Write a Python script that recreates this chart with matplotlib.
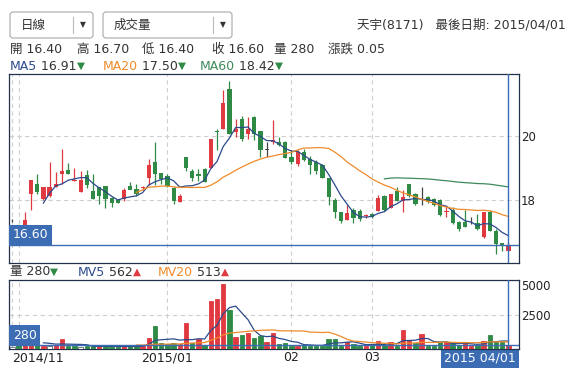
import numpy as np
import pandas as pd
import matplotlib
matplotlib.use('Agg')
import matplotlib.pyplot as plt
from matplotlib.patches import FancyBboxPatch
from matplotlib.transforms import blended_transform_factory, offset_copy

plt.rcParams['font.family'] = ['DejaVu Sans', 'Noto Sans CJK TC']

# daily candles
opens = [17.33, 17.00, 17.17, 18.19, 18.50, 18.03, 18.12, 18.40, 18.80, 18.93,
         18.59, 18.24, 18.77, 18.29, 18.42, 18.45, 18.06, 18.00, 18.04, 18.45,
         18.35, 18.38, 18.69, 19.19, 18.85, 18.76, 18.38, 17.93, 19.36, 18.90,
         18.80, 18.97, 19.01, 20.17, 20.21, 21.47, 20.14, 20.53, 20.05, 20.58,
         20.16, 19.57, 19.81, 19.82, 19.81, 19.34, 19.13, 19.50, 19.27, 19.19,
         19.08, 18.69, 18.00, 17.61, 17.36, 17.68, 17.66, 17.49, 17.56, 17.65,
         18.12, 17.75, 18.29, 17.98, 18.51, 18.19, 18.05, 18.08, 18.04, 18.01,
         17.62, 17.70, 17.30, 17.30, 17.33, 17.28, 16.84, 17.64, 17.04, 16.65,
         16.40]
highs = [17.40, 17.10, 17.61, 18.61, 18.82, 18.42, 19.19, 18.87, 19.61, 19.16,
         19.00, 18.90, 18.94, 18.82, 18.42, 18.45, 18.10, 18.02, 18.37, 18.56,
         18.50, 18.45, 19.27, 19.81, 18.85, 18.82, 18.42, 18.19, 19.36, 18.97,
         18.97, 19.00, 19.92, 20.22, 21.43, 21.71, 20.53, 20.64, 20.58, 20.64,
         20.16, 19.80, 20.51, 19.98, 19.84, 19.55, 19.55, 19.58, 19.39, 19.24,
         19.13, 18.69, 18.06, 17.64, 17.83, 17.76, 17.72, 17.55, 17.58, 18.17,
         18.15, 18.20, 18.40, 18.32, 18.51, 18.22, 18.40, 18.11, 18.06, 18.04,
         17.79, 17.77, 17.33, 17.68, 17.47, 17.57, 17.61, 17.70, 17.10, 16.65,
         16.70]
lows = [17.30, 16.75, 16.95, 17.70, 18.19, 18.00, 18.10, 18.40, 18.51, 18.80,
        18.59, 18.24, 18.38, 18.03, 17.87, 17.75, 17.78, 17.90, 17.96, 18.33,
        18.14, 18.30, 18.48, 18.48, 18.50, 18.40, 17.87, 17.93, 18.90, 18.59,
        18.59, 18.55, 19.00, 19.55, 20.21, 20.05, 19.98, 19.83, 19.91, 19.87,
        19.33, 19.35, 19.74, 19.69, 19.32, 19.13, 19.06, 19.23, 18.82, 18.82,
        18.69, 17.83, 17.45, 17.28, 17.36, 17.28, 17.33, 17.45, 17.45, 17.65,
        17.66, 17.75, 17.96, 17.64, 18.08, 17.85, 17.83, 17.91, 17.80, 17.49,
        17.47, 17.26, 17.02, 17.15, 17.26, 17.07, 16.81, 17.02, 16.30, 16.39,
        16.40]
closes = [17.33, 16.85, 17.38, 18.61, 18.25, 18.42, 18.42, 18.51, 18.92, 18.82,
          18.63, 18.63, 18.48, 18.03, 18.12, 18.03, 17.92, 17.91, 18.32, 18.31,
          18.19, 18.42, 19.11, 18.82, 18.66, 18.45, 17.96, 18.12, 19.01, 18.69,
          18.74, 18.55, 19.92, 20.12, 21.04, 20.05, 20.21, 19.90, 20.21, 20.05,
          19.56, 19.57, 19.87, 19.72, 19.32, 19.18, 19.50, 19.26, 19.08, 18.90,
          18.69, 18.08, 17.62, 17.35, 17.58, 17.43, 17.42, 17.54, 17.47, 18.05,
          17.70, 18.20, 17.98, 18.08, 18.12, 17.87, 18.05, 17.94, 17.85, 17.54,
          17.66, 17.28, 17.10, 17.17, 17.33, 17.10, 17.61, 17.04, 16.62, 16.55,
          16.60]
volumes = [150, 400, 600, 700, 300, 250, 200, 320, 740, 250,
           200, 150, 200, 200, 200, 200, 150, 150, 200, 200,
           200, 250, 820, 1680, 400, 370, 400, 370, 1850, 400,
           690, 320, 3490, 3640, 4680, 2850, 890, 1010, 1190, 820,
           940, 520, 1190, 370, 400, 250, 250, 320, 250, 250,
           250, 740, 740, 250, 500, 370, 250, 200, 320, 570,
           320, 500, 250, 1390, 640, 400, 1110, 250, 250, 500,
           500, 400, 320, 400, 250, 320, 570, 1010, 500, 500,
           280]

grid_idx = [0, 1, 25, 45, 58]
month_idx = [25, 45, 58]
month_labels = ['2015/01', '02', '03']
first_label = '2014/11'
last_label = '2015 04/01'

RED = '#e03a40'
GREEN = '#2e8a45'
DOJI = '#444444'
NAVY = '#2b4a8c'
ORANGE = '#f08a2a'
MAGREEN = '#3d8a5a'
BLUE = '#3c6db4'
FRAME = '#22324a'
GRID = '#cfcfcf'
TXT = '#333333'

W, H = 569, 375
fig = plt.figure(figsize=(W / 100, H / 100), dpi=100)
renderer = fig.canvas.get_renderer()

# pixel-space layer for header texts
bg = fig.add_axes([0, 0, 1, 1], zorder=0)
bg.set_xlim(0, W)
bg.set_ylim(H, 0)
bg.axis('off')

ax = fig.add_axes([9.3 / W, 1 - 263 / H, (519 - 9.3) / W, (263 - 74) / H], zorder=1)
axv = fig.add_axes([9.3 / W, 1 - 349 / H, (519 - 9.3) / W, (349 - 280) / H], zorder=1)

o = np.array(opens)
h = np.array(highs)
l = np.array(lows)
c = np.array(closes)
v = np.array(volumes)
x = np.arange(len(c))

ccol = np.where(c > o, RED, np.where(c < o, GREEN, DOJI))
ax.vlines(x, l, h, colors=ccol, lw=0.9, zorder=3)
ax.bar(x, np.maximum(np.abs(c - o), 0.02), bottom=np.minimum(o, c),
       width=0.68, color=ccol, lw=0, zorder=3)

# moving averages (first candle not counted, as on the site)
cs = pd.Series(c[1:], index=x[1:])
for n, col in [(5, NAVY), (20, ORANGE), (60, MAGREEN)]:
    ma = cs.rolling(n).mean()
    ax.plot(ma.index, ma.values, color=col, lw=0.9, zorder=4)

prev = np.r_[o[0], c[:-1]]
vface = np.where(c > prev, RED, np.where(c < prev, GREEN, 'white'))
vedge = np.where(c > prev, RED, np.where(c < prev, GREEN, '#666666'))
axv.bar(x, v, width=0.7, color=vface, edgecolor=vedge, lw=0.6, zorder=3)
vs = pd.Series(v[1:], index=x[1:])
for n, col in [(5, NAVY), (20, ORANGE)]:
    mv = vs.rolling(n).mean()
    axv.plot(mv.index, mv.values, color=col, lw=0.9, zorder=4)

for a in (ax, axv):
    a.set_xlim(-0.5, 81.7)
    for i in grid_idx:
        a.axvline(i, color=GRID, lw=0.8, ls=(0, (4, 3)), zorder=1)
    a.axvline(x[-1], color=BLUE, lw=1.0, zorder=5)
    a.set_xticks([])
    for s in a.spines.values():
        s.set_color(FRAME)
        s.set_linewidth(0.9)
    a.yaxis.tick_right()
    a.tick_params(axis='y', length=0, pad=1.5, labelsize=8.5, labelcolor='#222222')

ax.set_ylim(16.03, 21.94)
ax.set_yticks([18, 20])
for yv in (18, 20):
    ax.axhline(yv, color=GRID, lw=0.8, ls=(0, (4, 3)), zorder=1)
ax.axhline(c[-1], color=BLUE, lw=1.0, zorder=5)

axv.set_ylim(0, 5000)
axv.set_yticks([2500, 5000])
axv.set_yticklabels(['2500', '5000'])
axv.get_yticklabels()[1].set_va('top')
for yv in (2500, 5000):
    axv.axhline(yv, color=GRID, lw=0.8, ls=(0, (4, 3)), zorder=1)
axv.axhline(v[-1], color=BLUE, lw=1.0, zorder=5)

# value boxes on the left
box = dict(boxstyle='square,pad=0.28', fc=BLUE, ec='none')
tr = offset_copy(blended_transform_factory(ax.transAxes, ax.transData), fig=fig, x=3.5, y=3.5, units='dots')
ax.text(0, c[-1], f'{c[-1]:.2f}', transform=tr, ha='left', va='bottom',
        color='white', fontsize=9, bbox=box, zorder=6)
trv = offset_copy(blended_transform_factory(axv.transAxes, axv.transData), fig=fig, x=3.5, y=3.5, units='dots')
axv.text(0, v[-1], f'{v[-1]}', transform=trv, ha='left', va='bottom',
         color='white', fontsize=9, bbox=box, zorder=6)

# month labels under the volume panel
trx = blended_transform_factory(axv.transData, axv.transAxes)
for i, lab in zip(month_idx, month_labels):
    axv.text(i, -0.13, lab, transform=trx, ha='center', va='center',
             fontsize=9, color='#222222', clip_on=False)
axv.text(0.005, -0.13, first_label, transform=axv.transAxes, ha='left', va='center',
         fontsize=9, color='#222222', clip_on=False)
bg.text(516, 358, last_label, ha='right', va='center', fontsize=9, color='white',
        bbox=dict(boxstyle='square,pad=0.25', fc=BLUE, ec='none'))


def seg_text(x0, y0, parts, size=9):
    for s, col in parts:
        fs = 7.5 if s in ('▼', '▲') else size
        t = bg.text(x0, y0, s, color=col, fontsize=fs, ha='left', va='center')
        x0 += t.get_window_extent(renderer).width


# dropdowns
for x0, x1, sep, label in [(10, 93, 73, '日線'), (103, 232, 213, '成交量')]:
    bg.add_patch(FancyBboxPatch((x0, 12), x1 - x0, 26, boxstyle='round,pad=0,rounding_size=3',
                                fc='white', ec='#a8a8a8', lw=0.8))
    bg.plot([sep, sep], [17, 33], color='#bbbbbb', lw=0.8)
    bg.text(x0 + 11, 25, label, fontsize=9, color=TXT, va='center', ha='left')
    bg.text(sep + 10, 25, '▼', fontsize=5.5, color=TXT, va='center', ha='center')

bg.text(566, 25, '天宇(8171)   最後日期: 2015/04/01', fontsize=9, color=TXT,
        ha='right', va='center')

for xx, s in [(10, '開 16.40'), (77, '高 16.70'), (142, '低 16.40'),
              (212, '收 16.60'), (274, '量 280'), (328, '漲跌 0.05')]:
    bg.text(xx, 49, s, fontsize=9, color=TXT, ha='left', va='center')

seg_text(10, 66, [('MA5', NAVY), (' 16.91', TXT), ('▼', GREEN)])
seg_text(103, 66, [('MA20', ORANGE), (' 17.50', TXT), ('▼', GREEN)])
seg_text(200, 66, [('MA60', MAGREEN), (' 18.42', TXT), ('▼', GREEN)])

seg_text(10, 272, [('量 280', TXT), ('▼', GREEN)])
seg_text(78, 272, [('MV5', NAVY), (' 562', TXT), ('▲', RED)])
seg_text(158, 272, [('MV20', ORANGE), (' 513', TXT), ('▲', RED)])

fig.savefig('out.png', dpi=100)
